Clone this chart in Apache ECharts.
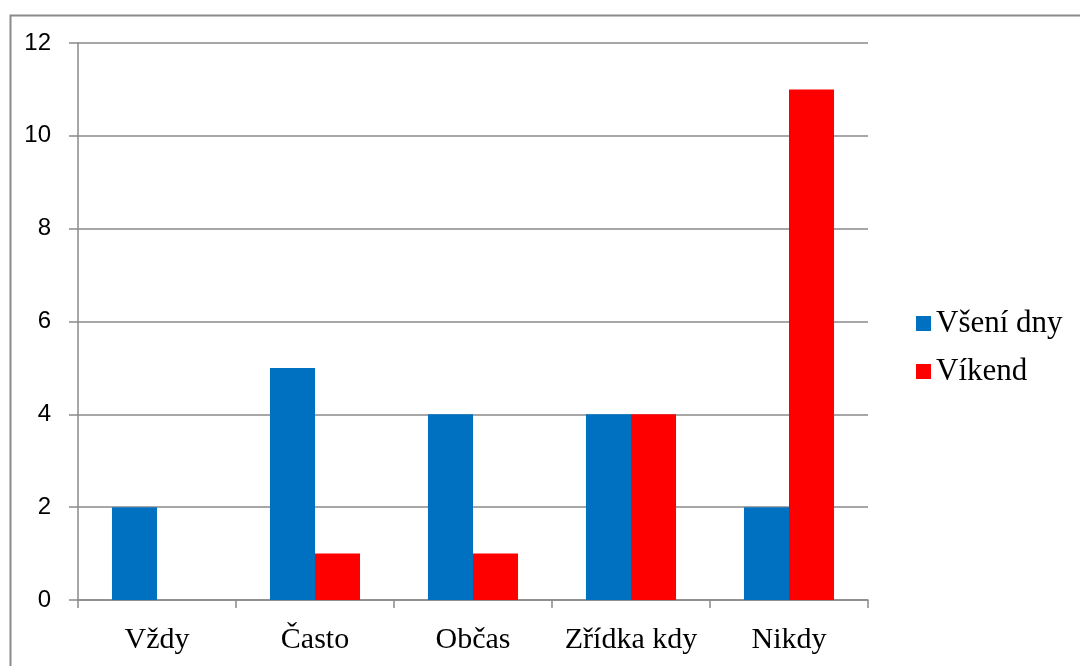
<!DOCTYPE html>
<html>
<head>
<meta charset="utf-8">
<script src="https://cdn.jsdelivr.net/npm/echarts@6/dist/echarts.min.js"></script>
<style>html,body{margin:0;padding:0;background:#fff;}#c{width:1080px;height:666px;}</style>
</head>
<body>
<div id="c"></div>
<script>
const categories = ['Vždy', 'Často', 'Občas', 'Zřídka kdy', 'Nikdy'];
const seriesNames = ['Všení dny', 'Víkend'];
const weekdays = [2, 5, 4, 4, 2];
const weekend = [0, 1, 1, 4, 11];
const colors = ['#0070C0', '#FF0000'];

const chart = echarts.init(document.getElementById('c'), null, {renderer: 'canvas'});
chart.setOption({
  animation: false,
  backgroundColor: '#fff',
  color: colors,
  graphic: [{
    type: 'rect', left: 8, top: 13, shape: {width: 1200, height: 800},
    style: {fill: 'none', stroke: '#8a8a8a', lineWidth: 2}, silent: true
  }],
  grid: {left: 78, right: 212, top: 43, bottom: 66, containLabel: false},
  legend: {
    orient: 'vertical', left: 911, top: 303,
    itemWidth: 15, itemHeight: 15, itemGap: 17,
    icon: 'rect',
    textStyle: {fontFamily: 'Liberation Serif', fontSize: 31, color: '#000', padding: [0, 0, 0, 0]},
    data: seriesNames
  },
  xAxis: {
    type: 'category', data: categories,
    axisLine: {lineStyle: {color: '#8a8a8a', width: 1.5}},
    axisTick: {show: true, interval: 0, length: 8, lineStyle: {color: '#8a8a8a', width: 1.5}},
    axisLabel: {interval: 0, fontFamily: 'Liberation Serif', fontSize: 30, color: '#000', margin: 25}
  },
  yAxis: {
    type: 'value', min: 0, max: 12, interval: 2,
    axisLine: {show: true, lineStyle: {color: '#8a8a8a', width: 1.5}},
    axisTick: {show: true, length: 9, lineStyle: {color: '#8a8a8a', width: 1.5}},
    splitLine: {show: true, lineStyle: {color: '#8a8a8a', width: 1.5}},
    axisLabel: {fontFamily: 'Liberation Sans', fontSize: 24, color: '#000', margin: 27}
  },
  series: [
    {name: seriesNames[0], type: 'bar', data: weekdays, barGap: '0%', barCategoryGap: '43%'},
    {name: seriesNames[1], type: 'bar', data: weekend, barGap: '0%', barCategoryGap: '43%'}
  ]
});
</script>
</body>
</html>
